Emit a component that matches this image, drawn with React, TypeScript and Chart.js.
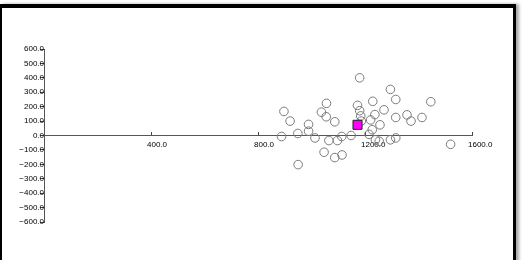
import React, { useEffect, useRef } from "react";
import { Chart, registerables } from "chart.js";

Chart.register(...registerables);

const pointX = [1180, 1295, 1315, 1446, 1229, 1056, 897, 1037, 1172, 1180, 1271, 1237, 1184, 1055, 1221, 1315, 1357, 1372, 1413, 920, 1087, 1186, 989, 1256, 989, 1227, 949, 1215, 888, 1013, 1113, 1148, 1065, 1097, 1239, 1253, 1295, 1315, 1520, 1047, 1087, 1114, 950];
const pointY = [400, 320, 250, 234, 237, 223, 167, 162, 209, 172, 178, 145, 136, 130, 108, 125, 143, 100, 125, 100, 95, 100, 77, 74, 30, 40, 14, 8, -7, -17, -7, 0, -35, -35, -30, -40, -30, -17, -61, -116, -153, -135, -202];
const highlightX = [1172];
const highlightY = [74];
const xTickStep = 400;
const yTickStep = 100;
const xRange = [0, 1600];
const yRange = [-600, 600];

function fmt(v: number): string {
  const s = Math.abs(v).toFixed(1);
  return v < 0 ? "\u2212" + s : s;
}

export default function App() {
  const ref = useRef<HTMLCanvasElement | null>(null);
  useEffect(() => {
    if (!ref.current) return;
    const font = { family: "'Liberation Sans', Arial, sans-serif", size: 8 };
    const chart = new Chart(ref.current, {
      type: "scatter",
      data: {
        datasets: [
          {
            label: "highlight",
            data: highlightX.map((x, i) => ({ x, y: highlightY[i] })),
            pointStyle: "rect",
            pointRadius: 6.4,
            backgroundColor: "#ff00ff",
            borderColor: "#222222",
            borderWidth: 1,
          },
          {
            label: "points",
            data: pointX.map((x, i) => ({ x, y: pointY[i] })),
            pointStyle: "circle",
            pointRadius: 4.3,
            backgroundColor: "rgba(255,255,255,0)",
            borderColor: "#7a7a7a",
            borderWidth: 1,
          },
        ],
      },
      options: {
        animation: false,
        responsive: false,
        events: [],
        layout: { padding: { left: 44, top: 49, right: 50, bottom: 38 } },
        plugins: { legend: { display: false }, tooltip: { enabled: false } },
        scales: {
          x: {
            type: "linear",
            position: { y: 0 },
            min: xRange[0],
            max: xRange[1],
            grid: { drawOnChartArea: false, color: "#444", tickLength: -4, lineWidth: 1 },
            border: { color: "#555", width: 1 },
            ticks: {
              stepSize: xTickStep,
              autoSkip: false,
              maxRotation: 0,
              align: "start",
              labelOffset: -4,
              padding: 8,
              color: "#000",
              font,
              callback: (v: any) => (Number(v) === 0 ? null : fmt(Number(v))),
            },
          },
          y: {
            type: "linear",
            position: { x: 0 },
            min: yRange[0],
            max: yRange[1],
            grid: { drawOnChartArea: false, color: "#444", tickLength: 4, lineWidth: 1 },
            border: { color: "#555", width: 1 },
            ticks: {
              stepSize: yTickStep,
              autoSkip: false,
              padding: 0,
              color: "#000",
              font,
              callback: (v: any) => fmt(Number(v)),
            },
          },
        },
      },
    } as any);
    return () => chart.destroy();
  }, []);
  return (
    <div style={{ position: "fixed", left: 0, top: 0, width: 522, height: 260, background: "#fff", overflow: "hidden" }}>
      <div
        style={{
          position: "absolute",
          left: 0,
          top: 4,
          width: 516,
          height: 300,
          boxSizing: "border-box",
          borderTop: "4px solid #000",
          borderLeft: "2px solid #000",
          borderRight: "3px solid #000",
          boxShadow: "3px 0 3px rgba(0,0,0,0.35)",
          background: "#fff",
        }}
      />
      <canvas ref={ref} width={522} height={260} style={{ position: "absolute", left: 0, top: 0, width: 522, height: 260 }} />
    </div>
  );
}
